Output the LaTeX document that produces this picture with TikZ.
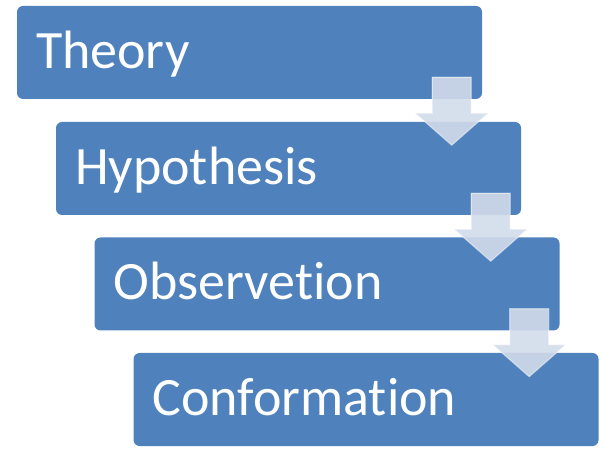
\documentclass[tikz,border=0pt]{standalone}
\usepackage{fontspec}
\setmainfont[Ligatures=NoCommon]{Carlito}
\usetikzlibrary{calc}
\definecolor{boxblue}{HTML}{4F81BD}
\definecolor{arrowfill}{RGB}{210,219,234}
\tikzset{
  stage/.style={rectangle, rounded corners=6pt, fill=boxblue, draw=none,
    minimum width=465pt, minimum height=93pt, inner sep=0pt,
    text width=427pt, align=left, text height=32pt, text depth=0pt,
    text=white, font=\fontsize{54}{54}\selectfont},
  downarrow/.style={fill=arrowfill, fill opacity=0.9, draw=white, draw opacity=0.45, line width=1.2pt, line join=miter}
}
\newcommand{\stepdown}[1]{%
  \path[downarrow] ($(#1.south east)+(-50pt,22pt)$) -- ($(#1.south east)+(-11pt,22pt)$)
    -- ($(#1.south east)+(-11pt,-14pt)$) -- ($(#1.south east)+(6pt,-14pt)$)
    -- ($(#1.south east)+(-30.5pt,-46pt)$) -- ($(#1.south east)+(-67pt,-14pt)$)
    -- ($(#1.south east)+(-50pt,-14pt)$) -- cycle;}
\begin{document}
\begin{tikzpicture}[x=1pt,y=1pt]
\useasboundingbox (0,0) rectangle (604,452);
\node[stage] (b1) at (249.5,399.5) {Theory};
\node[stage] (b2) at (288.5,283.5) {Hypothesis};
\node[stage] (b3) at (327,168) {Observetion};
\node[stage] (b4) at (366,52.5) {Conformation};
\stepdown{b1}
\stepdown{b2}
\stepdown{b3}
\end{tikzpicture}
\end{document}
